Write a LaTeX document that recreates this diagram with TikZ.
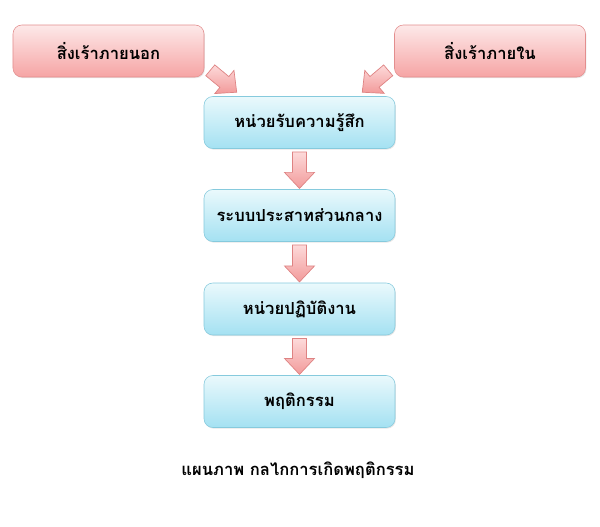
\documentclass[tikz,border=0pt]{standalone}
\usepackage{fontspec}
\newfontfamily\thaifont[Script=Thai]{Loma}
\usetikzlibrary{calc,shadows}
\definecolor{redtop}{HTML}{FDE9E9}
\definecolor{redbot}{HTML}{F6A4A4}
\definecolor{redline}{HTML}{E38E8E}
\definecolor{bluetop}{HTML}{EAF9FC}
\definecolor{bluebot}{HTML}{A4E1F2}
\definecolor{blueline}{HTML}{86CADD}
\definecolor{arrtop}{HTML}{FDDADA}
\definecolor{arrbot}{HTML}{F29A9A}
\definecolor{arrline}{HTML}{DE8383}
% block arrow from #1 to #2
\newcommand{\blockarrow}[2]{%
  \path[arrowshape] let \p1=#1, \p2=#2,
    \n1={atan2(\y2-\y1,\x2-\x1)}, \n2={veclen(\x2-\x1,\y2-\y1)} in
    [shift={(\p1)}, rotate=\n1]
    (0pt,-5pt) -- ({\n2-11.4pt},-5pt) -- ({\n2-11.4pt},-10.7pt) -- (\n2,0pt)
    -- ({\n2-11.4pt},10.7pt) -- ({\n2-11.4pt},5pt) -- (0pt,5pt) -- cycle;}
\begin{document}
\begin{tikzpicture}[font=\thaifont\bfseries\fontsize{11.8}{14}\selectfont,
  box/.style={rounded corners=0.22cm, minimum width=4.775cm, minimum height=1.3cm,
    drop shadow={opacity=0.2, shadow xshift=0.6pt, shadow yshift=-0.8pt}},
  stimbox/.style={box, draw=redline, top color=redtop, bottom color=redbot},
  stepbox/.style={box, draw=blueline, top color=bluetop, bottom color=bluebot},
  arrowshape/.style={draw=arrline, line width=0.5pt, top color=arrtop, bottom color=arrbot}]
\useasboundingbox (0,0) rectangle (15,-13.15);
\def\xm{7.4875}
\node[stimbox] (ext) at (2.7125,-1.275) {สิ่งเร้าภายนอก};
\node[stimbox] (int) at (12.25,-1.275) {สิ่งเร้าภายใน};

\node[stepbox] (sense) at (\xm,-3.0625) {หน่วยรับความรู้สึก};
\node[stepbox] (cns) at (\xm,-5.3875) {ระบบประสาทส่วนกลาง};
\node[stepbox] (effector) at (\xm,-7.725) {หน่วยปฏิบัติงาน};
\node[stepbox] (behav) at (\xm,-10.0375) {พฤติกรรม};

\blockarrow{($(ext.south east)+(0.15,0.175)$)}{($(sense.north west)+(0.825,0.1)$)}
\blockarrow{($(int.south west)+(-0.15,0.175)$)}{($(sense.north east)+(-0.825,0.1)$)}
\blockarrow{($(sense.south)+(0,-0.08)$)}{($(cns.north)+(0,0.02)$)}
\blockarrow{($(cns.south)+(0,-0.08)$)}{($(effector.north)+(0,0.02)$)}
\blockarrow{($(effector.south)+(0,-0.08)$)}{($(behav.north)+(0,0.02)$)}

\node (caption) at (7.45,-11.75) {แผนภาพ กลไกการเกิดพฤติกรรม};
\end{tikzpicture}
\end{document}
